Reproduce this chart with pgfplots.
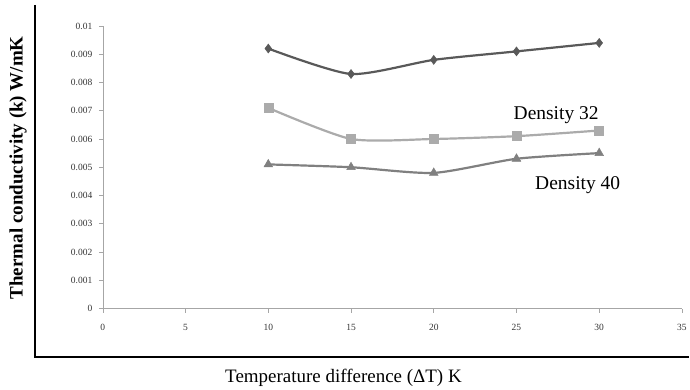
\documentclass[border=0pt]{standalone}
\usepackage{pgfplots}
\pgfplotsset{compat=1.18}
\usepackage{fontspec}
\setmainfont{Liberation Serif}
\definecolor{c1}{HTML}{595959}
\definecolor{c2}{HTML}{ABABAB}
\definecolor{c3}{HTML}{808080}
\begin{document}
\begin{tikzpicture}[x=1pt,y=1pt]
\path (0,0) rectangle (690,390);
\draw[black,line width=2pt] (35,385) -- (35,32) -- (690,32);
\node[rotate=90,font=\fontsize{19}{19}\selectfont\bfseries] at (18,222) {Thermal conductivity (k) W/mK};
\node[font=\fontsize{19}{19}\selectfont] at (344,12) {Temperature difference (ΔT) K};
\begin{axis}[
  at={(103pt,81pt)}, anchor=south west,
  scale only axis, width=580pt, height=283pt,
  xmin=0, xmax=35, ymin=0, ymax=0.01,
  xtick={0,5,...,35}, ytick={0,0.001,...,0.0105},
  axis lines=left, axis line style={-,draw=gray!70, line width=0.6pt},
  tick style={gray!70, line width=0.6pt}, tick align=outside, major tick length=4pt,
  ticklabel style={font=\fontsize{9.5}{9.5}\selectfont, text=black!80},
  xticklabel style={yshift=-8pt},
  scaled y ticks=false,
  yticklabel style={/pgf/number format/fixed, /pgf/number format/precision=3, xshift=-3pt},
  /pgf/number format/assume math mode=true,
  clip=false,
]
\addplot[c1, line width=2.2pt, smooth, tension=0.4, mark=diamond*, mark size=4.5pt, mark options={fill=c1, line width=0.5pt}] coordinates {(10,0.0092) (15,0.0083) (20,0.0088) (25,0.0091) (30,0.0094)};
\addplot[c2, line width=2.2pt, smooth, tension=0.4, mark=square*, mark size=4.5pt, mark options={fill=c2, line width=0.5pt}] coordinates {(10,0.0071) (15,0.0060) (20,0.0060) (25,0.0061) (30,0.0063)};
\addplot[c3, line width=2.2pt, smooth, tension=0.4, mark=triangle*, mark size=5pt, mark options={fill=c3, line width=0.5pt}] coordinates {(10,0.0051) (15,0.0050) (20,0.0048) (25,0.0053) (30,0.0055)};
\node[font=\fontsize{19.5}{19.5}\selectfont] at (axis cs:27.4,0.00686) {Density 32};
\node[font=\fontsize{19.5}{19.5}\selectfont] at (axis cs:28.7,0.00435) {Density 40};
\end{axis}
\end{tikzpicture}
\end{document}
